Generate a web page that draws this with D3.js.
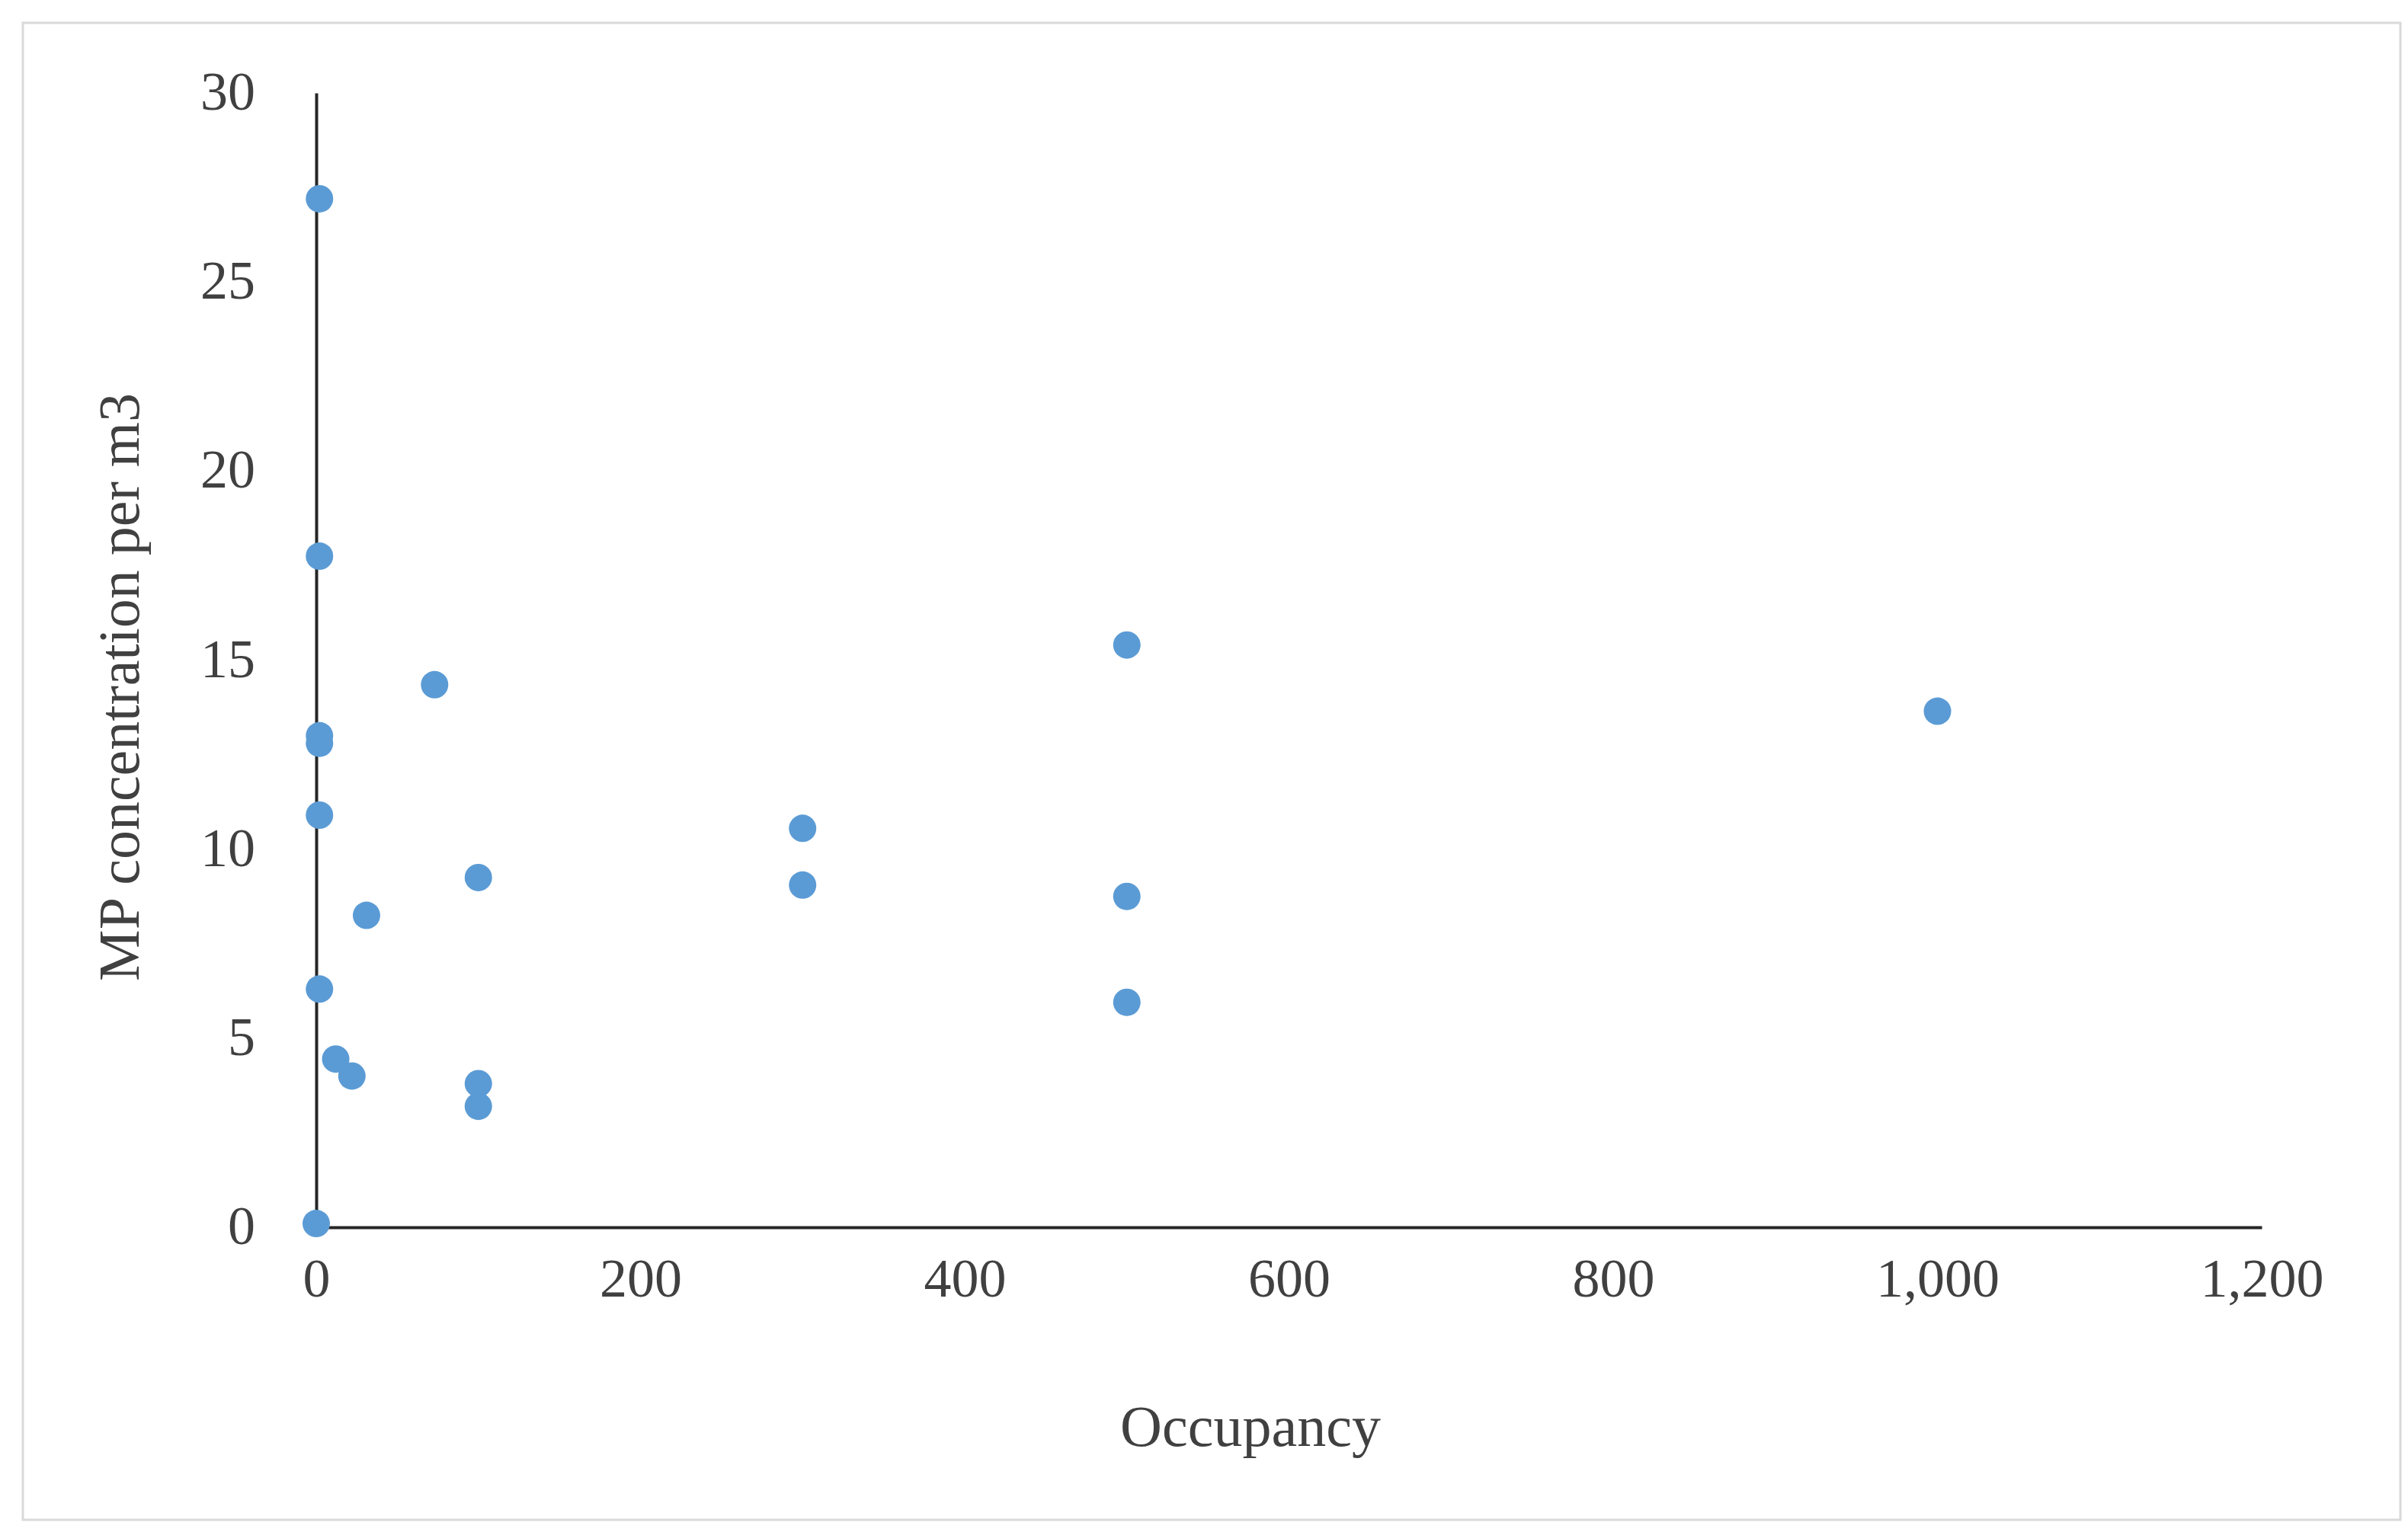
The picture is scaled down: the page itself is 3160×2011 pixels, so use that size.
<!DOCTYPE html>
<html><head><meta charset="utf-8">
<script src="https://cdn.jsdelivr.net/npm/d3@7"></script>
<style>body{margin:0;background:#fff}</style>
</head><body>
<svg id="chart" width="3160" height="2011"></svg>
<script>
const occupancy = [2, 2, 2, 2, 2, 2, 0, 12, 22, 31, 73, 100, 100, 100, 300, 300, 500, 500, 500, 1000];
const concentration = [27.2, 17.75, 13.0, 12.8, 10.9, 6.3, 0.1, 4.45, 4.0, 8.25, 14.35, 9.25, 3.8, 3.2, 10.55, 9.05, 15.4, 8.75, 5.95, 13.65];
const xTicks = [0, 200, 400, 600, 800, 1000, 1200];
const yTicks = [0, 5, 10, 15, 20, 25, 30];

const svg = d3.select('#chart');
const font = '"Liberation Serif", "Times New Roman", serif';
svg.append('rect').attr('x', 30).attr('y', 30).attr('width', 3120).attr('height', 1965)
  .attr('fill', '#fff').attr('stroke', '#d9d9d9').attr('stroke-width', 3);

const x = d3.scaleLinear().domain([0, 1200]).range([415, 2968]);
const y = d3.scaleLinear().domain([0, 30]).range([1611, 122]);

const xAxis = svg.append('g').attr('transform', `translate(0,${y(0)})`)
  .call(d3.axisBottom(x).tickValues(xTicks).tickSize(0).tickPadding(40));
const yAxis = svg.append('g').attr('transform', `translate(${x(0)},0)`)
  .call(d3.axisLeft(y).tickValues(yTicks).tickSize(0).tickPadding(80));
[xAxis, yAxis].forEach(g => {
  g.select('.domain').attr('stroke', '#262626').attr('stroke-width', 4);
  g.selectAll('text').attr('font-family', font).attr('font-size', 72).attr('fill', '#404040');
});
yAxis.selectAll('text').attr('dy', '0.3em');
xAxis.selectAll('text').attr('dy', '0.71em');

svg.selectAll('circle').data(occupancy).join('circle')
  .attr('cx', d => x(d)).attr('cy', (d, i) => y(concentration[i]))
  .attr('r', 18).attr('fill', '#5b9bd5');

svg.append('text').attr('x', 1641).attr('y', 1898).attr('text-anchor', 'middle')
  .attr('font-family', font).attr('font-size', 76).attr('fill', '#404040').text('Occupancy');
svg.append('text').attr('transform', 'translate(182,902) rotate(-90)').attr('text-anchor', 'middle')
  .attr('font-family', font).attr('font-size', 76).attr('fill', '#404040').text('MP concentration per m3');
</script>
</body></html>
